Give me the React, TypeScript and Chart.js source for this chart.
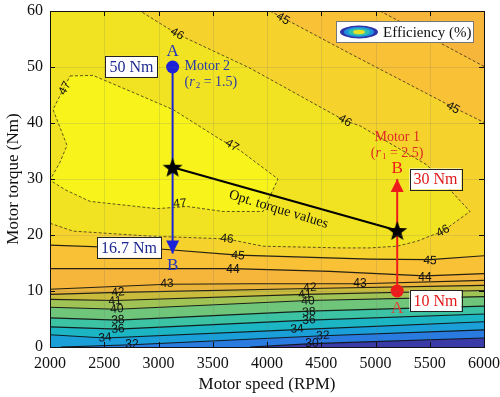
import React, { useEffect, useRef } from 'react';
import { Chart, registerables } from 'chart.js';

Chart.register(...registerables);

// ---------- axes ----------
const SPEED_MIN = 2000;
const SPEED_MAX = 6000;
const TORQUE_MIN = 0;
const TORQUE_MAX = 60;
const SPEED_TICKS = [2000, 2500, 3000, 3500, 4000, 4500, 5000, 5500, 6000];
const TORQUE_TICKS = [0, 10, 20, 30, 40, 50, 60];

// ---------- efficiency contour lines (speed RPM, torque Nm) ----------
const C44_TOP_X = [5042, 5576, 6000];
const C44_TOP_Y = [60, 54.5, 50.1];
const C45_TOP_X = [4028, 4765, 5687, 6000];
const C45_TOP_Y = [60, 52.4, 43.1, 40.1];
const C46_X = [2000, 2212, 2922, 3631, 3963, 4673, 4949, 5198, 5383, 5622, 5871, 5475, 4857, 4719, 3843, 3171, 2830];
const C46_Y = [22.1, 20.7, 19.8, 19.3, 18.0, 17.7, 17.7, 18.0, 18.9, 20.7, 24.2, 32.5, 39.5, 40.4, 49.8, 55.9, 60];
const C46_CORNER_X = [2000];
const C46_CORNER_Y = [60];
const C47_X = [2184, 2396, 2737, 3134, 3567, 3751, 4101, 3963, 3595, 3263, 2986, 2369, 2138, 2000, 2092, 2157, 2028, 2184];
const C47_Y = [48.4, 48.5, 45.7, 42.4, 37.1, 35.1, 30.0, 24.2, 24.2, 25.1, 24.7, 26.0, 28.1, 29.8, 33.0, 36.0, 42.4, 48.4];
const C45_X = [2000, 3014, 3733, 4949, 5502, 6000];
const C45_Y = [18.2, 17.5, 16.4, 15.7, 15.6, 16.3];
const C44_X = [2000, 2922, 3687, 4581, 5456, 6000];
const C44_Y = [14.0, 14.0, 14.0, 13.5, 12.7, 13.1];
const C43_X = [2000, 3078, 3843, 4857, 6000];
const C43_Y = [10.3, 11.2, 11.3, 11.3, 11.9];
const C42_X = [2000, 2627, 4396, 6000];
const C42_Y = [9.4, 9.75, 10.45, 11.0];
const C41_X = [2000, 2599, 4350, 6000];
const C41_Y = [8.5, 8.3, 9.4, 10.1];
const C40_X = [2000, 2617, 4378, 6000];
const C40_Y = [7.1, 6.75, 8.3, 9.0];
const C38_X = [2000, 2627, 4387, 6000];
const C38_Y = [5.2, 4.8, 6.4, 7.3];
const C36_X = [2000, 2627, 4387, 6000];
const C36_Y = [3.6, 3.2, 4.8, 5.9];
const C34_X = [2000, 2507, 4277, 6000];
const C34_Y = [2.2, 1.6, 3.1, 4.5];
const C32_X = [2100, 2756, 4516, 6000];
const C32_Y = [0, 0.4, 2.0, 3.05];
const C30_X = [3843, 4415, 6000];
const C30_Y = [0, 0.6, 1.6];

// contour labels
const LABEL_TEXT = ['46', '47', '47', '47', '46', '45', '45', '46', '46', '45', '44', '45', '44', '43', '43', '42', '41', '40', '38', '36', '34', '32', '42', '41', '40', '38', '36', '34', '32', '30'];
const LABEL_SPEED = [3171, 2138, 3677, 3198, 4719, 4147, 5714, 5622, 3631, 3733, 3687, 5502, 5456, 3078, 4857, 2627, 2599, 2617, 2627, 2627, 2507, 2756, 4396, 4350, 4378, 4387, 4387, 4277, 4516, 4415];
const LABEL_TORQUE = [55.9, 46.2, 36.0, 25.6, 40.4, 58.6, 42.7, 20.7, 19.3, 16.3, 13.8, 15.4, 12.4, 11.3, 11.3, 9.75, 8.2, 6.75, 4.8, 3.2, 1.64, 0.4, 10.6, 9.4, 8.2, 6.2, 4.8, 3.2, 2.0, 0.6];
const LABEL_ANGLE = [30, -62, 32, -5, 30, 30, 30, -28, 6, 5, 0, 3, 0, -2, 0, -5, -5, -5, -5, -5, -5, 0, -4, -4, -4, -4, -4, -4, -4, 0];

// operating points
const MOTOR2_SPEED = 3130;
const MOTOR2_TORQUE = [50, 16.7];
const MOTOR1_SPEED = 5200;
const MOTOR1_TORQUE = [10, 30];
const OPT_SPEED = [3130, 5200];
const OPT_TORQUE = [32.1, 20.8];

// value boxes
const BOX_TEXT = ['50 Nm', '16.7 Nm', '30 Nm', '10 Nm'];
const BOX_SPEED = [2751, 2728, 5553, 5553];
const BOX_TORQUE = [50.1, 17.8, 30.0, 8.3];

// ---------- colours ----------
const COL_LT30 = '#3b3ba8';
const COL_30_32 = '#2a7be0';
const COL_32_34 = '#1a9fd8';
const COL_34_36 = '#1cb5c3';
const COL_36_38 = '#3bc3a4';
const COL_38_40 = '#6fc67a';
const COL_40_41 = '#a0c356';
const COL_41_42 = '#c9bc3d';
const COL_42_43 = '#eab43a';
const COL_43_44 = '#f6b53b';
const COL_44_45 = '#f8c136';
const COL_45_46 = '#f5d22c';
const COL_46_47 = '#f2e322';
const COL_GT47 = '#f7f31b';
const BLUE = '#1b22d8';
const BLUE_TEXT = '#1e2a90';
const RED = '#ee1b1b';
const RED_TEXT = '#de2a24';
const SERIF = '"Liberation Serif", "Times New Roman", serif';
const SANS = '"Liberation Sans", Arial, sans-serif';

const pts = (xs: number[], ys: number[]) => xs.map((x, i) => ({ x, y: ys[i] }));

function makeStar(r: number) {
  const c = document.createElement('canvas');
  const s = Math.ceil(r * 2 + 2);
  c.width = s;
  c.height = s;
  const g = c.getContext('2d')!;
  g.translate(s / 2, s / 2 + 1);
  g.beginPath();
  for (let i = 0; i < 10; i++) {
    const rad = i % 2 === 0 ? r : r * 0.42;
    const a = -Math.PI / 2 + (i * Math.PI) / 5;
    g.lineTo(Math.cos(a) * rad, Math.sin(a) * rad);
  }
  g.closePath();
  g.fillStyle = '#000';
  g.fill();
  return c;
}

export default function App() {
  const ref = useRef<HTMLCanvasElement>(null);

  useEffect(() => {
    const canvas = ref.current!;
    const layers: any[] = [];
    const base = { pointRadius: 0, pointHoverRadius: 0, tension: 0 };
    const fillLayer = (xs: number[], ys: number[], fill: any, color: string) =>
      layers.push({ ...base, data: pts(xs, ys), fill, backgroundColor: color, borderWidth: 0, borderColor: 'rgba(0,0,0,0)' });
    const strokeLayer = (xs: number[], ys: number[], dashed: boolean) =>
      layers.push({
        ...base,
        data: pts(xs, ys),
        fill: false,
        borderColor: dashed ? 'rgba(20,20,20,0.85)' : 'rgba(15,15,15,0.9)',
        borderWidth: dashed ? 0.8 : 1.1,
        borderDash: dashed ? [3, 2] : [],
      });

    // fills, painted bottom to top
    fillLayer(C45_TOP_X, C45_TOP_Y, 'end', COL_44_45);
    fillLayer(C44_TOP_X, C44_TOP_Y, 'end', COL_43_44);
    fillLayer(C46_X.concat(C46_CORNER_X), C46_Y.concat(C46_CORNER_Y), 'shape', COL_46_47);
    fillLayer(C47_X, C47_Y, 'shape', COL_GT47);
    fillLayer(C45_X, C45_Y, 'start', COL_44_45);
    fillLayer(C44_X, C44_Y, 'start', COL_43_44);
    fillLayer(C43_X, C43_Y, 'start', COL_42_43);
    fillLayer(C42_X, C42_Y, 'start', COL_41_42);
    fillLayer(C41_X, C41_Y, 'start', COL_40_41);
    fillLayer(C40_X, C40_Y, 'start', COL_38_40);
    fillLayer(C38_X, C38_Y, 'start', COL_36_38);
    fillLayer(C36_X, C36_Y, 'start', COL_34_36);
    fillLayer(C34_X, C34_Y, 'start', COL_32_34);
    fillLayer(C32_X, C32_Y, 'start', COL_30_32);
    fillLayer(C30_X, C30_Y, 'start', COL_LT30);

    // contour strokes
    strokeLayer(C45_TOP_X, C45_TOP_Y, true);
    strokeLayer(C44_TOP_X, C44_TOP_Y, true);
    strokeLayer(C46_X, C46_Y, true);
    strokeLayer(C47_X, C47_Y, true);
    strokeLayer(C45_X, C45_Y, false);
    strokeLayer(C44_X, C44_Y, false);
    strokeLayer(C43_X, C43_Y, false);
    strokeLayer(C42_X, C42_Y, false);
    strokeLayer(C41_X, C41_Y, false);
    strokeLayer(C40_X, C40_Y, false);
    strokeLayer(C38_X, C38_Y, false);
    strokeLayer(C36_X, C36_Y, false);
    strokeLayer(C34_X, C34_Y, false);
    strokeLayer(C32_X, C32_Y, false);
    strokeLayer(C30_X, C30_Y, false);

    // motor lines
    layers.push({ ...base, data: pts([MOTOR2_SPEED, MOTOR2_SPEED], MOTOR2_TORQUE), borderColor: BLUE, borderWidth: 2, fill: false });
    layers.push({ ...base, data: pts([MOTOR1_SPEED, MOTOR1_SPEED], MOTOR1_TORQUE), borderColor: RED, borderWidth: 2, fill: false });
    layers.push({ ...base, data: pts(OPT_SPEED, OPT_TORQUE), borderColor: '#000', borderWidth: 2.2, fill: false });
    // start points
    layers.push({ ...base, showLine: false, data: [{ x: MOTOR2_SPEED, y: MOTOR2_TORQUE[0] }], pointRadius: 6.5, pointBackgroundColor: BLUE, pointBorderWidth: 0 });
    layers.push({ ...base, showLine: false, data: [{ x: MOTOR1_SPEED, y: MOTOR1_TORQUE[0] }], pointRadius: 6.5, pointBackgroundColor: RED, pointBorderWidth: 0 });
    // optimum stars
    layers.push({ ...base, showLine: false, data: pts(OPT_SPEED, OPT_TORQUE), pointRadius: 10, pointStyle: makeStar(10.5) });

    const datasets = layers.map((d, i) => ({ ...d, order: layers.length - i }));

    const overlay = {
      id: 'overlay',
      beforeDatasetsDraw(chart: any) {
        const { ctx, chartArea: a } = chart;
        ctx.save();
        ctx.fillStyle = COL_45_46;
        ctx.fillRect(a.left, a.top, a.right - a.left, a.bottom - a.top);
        ctx.restore();
      },
      afterDatasetsDraw(chart: any) {
        const { ctx, chartArea: a } = chart;
        const xs = chart.scales.x;
        const ys = chart.scales.y;
        const X = (v: number) => xs.getPixelForValue(v);
        const Y = (v: number) => ys.getPixelForValue(v);
        ctx.save();
        ctx.beginPath();
        ctx.rect(a.left, a.top, a.right - a.left, a.bottom - a.top);
        ctx.clip();

        // faint grid
        ctx.strokeStyle = 'rgba(110,110,110,0.18)';
        ctx.lineWidth = 1;
        SPEED_TICKS.forEach((v) => {
          const px = Math.round(X(v)) + 0.5;
          ctx.beginPath();
          ctx.moveTo(px, a.top);
          ctx.lineTo(px, a.bottom);
          ctx.stroke();
        });
        TORQUE_TICKS.forEach((v) => {
          const py = Math.round(Y(v)) + 0.5;
          ctx.beginPath();
          ctx.moveTo(a.left, py);
          ctx.lineTo(a.right, py);
          ctx.stroke();
        });

        // contour labels
        ctx.fillStyle = '#111';
        ctx.font = `12px ${SANS}`;
        ctx.textAlign = 'center';
        ctx.textBaseline = 'middle';
        LABEL_TEXT.forEach((t, i) => {
          ctx.save();
          ctx.translate(X(LABEL_SPEED[i]), Y(LABEL_TORQUE[i]));
          ctx.rotate((LABEL_ANGLE[i] * Math.PI) / 180);
          ctx.fillText(t, 0, 0);
          ctx.restore();
        });

        // arrowheads
        const arrow = (sx: number, tip: number, dir: number, color: string) => {
          const px = X(sx);
          const py = Y(tip);
          ctx.fillStyle = color;
          ctx.beginPath();
          ctx.moveTo(px, py);
          ctx.lineTo(px - 6.5, py - dir * 13);
          ctx.lineTo(px + 6.5, py - dir * 13);
          ctx.closePath();
          ctx.fill();
        };
        arrow(MOTOR2_SPEED, MOTOR2_TORQUE[1], 1, BLUE);
        arrow(MOTOR1_SPEED, MOTOR1_TORQUE[1], -1, RED);

        // A / B letters
        ctx.font = `17px ${SERIF}`;
        ctx.textAlign = 'center';
        ctx.textBaseline = 'middle';
        ctx.fillStyle = '#2233c0';
        ctx.fillText('A', X(MOTOR2_SPEED), Y(MOTOR2_TORQUE[0]) - 15);
        ctx.fillText('B', X(MOTOR2_SPEED), Y(MOTOR2_TORQUE[1]) + 12);
        ctx.fillStyle = RED;
        ctx.fillText('B', X(MOTOR1_SPEED), Y(MOTOR1_TORQUE[1]) - 10);
        ctx.fillStyle = '#e0443c';
        ctx.fillText('A', X(MOTOR1_SPEED), Y(MOTOR1_TORQUE[0]) + 18);

        // motor captions
        const caption = (x: number, y: number, name: string, sub: string, val: string, color: string, align: string) => {
          ctx.fillStyle = color;
          ctx.textBaseline = 'middle';
          ctx.font = `14px ${SERIF}`;
          const w1 = ctx.measureText(name).width;
          const parts: [string, string, number][] = [
            ['(', `14px ${SERIF}`, 0],
            ['r', `italic 14px ${SERIF}`, 0],
            [sub, `9px ${SERIF}`, 4],
            [' = ' + val + ')', `14px ${SERIF}`, 0],
          ];
          let w2 = 0;
          parts.forEach(([s, f]) => {
            ctx.font = f;
            w2 += ctx.measureText(s).width + (s === 'r' ? 1 : 0);
          });
          const x1 = align === 'center' ? x - w1 / 2 : x;
          const x2 = align === 'center' ? x - w2 / 2 : x;
          ctx.textAlign = 'left';
          ctx.font = `14px ${SERIF}`;
          ctx.fillText(name, x1, y);
          let cx = x2;
          parts.forEach(([s, f, dy]) => {
            ctx.font = f;
            ctx.fillText(s, cx, y + 16 + dy);
            cx += ctx.measureText(s).width + (s === 'r' ? 1 : 0);
          });
        };
        caption(X(MOTOR2_SPEED) + 12, Y(MOTOR2_TORQUE[0]) - 1, 'Motor 2', '2', '1.5', '#2a3aa8', 'left');
        caption(X(MOTOR1_SPEED), Y(MOTOR1_TORQUE[1]) - 42, 'Motor 1', '1', '2.5', RED_TEXT, 'center');

        // optimum label
        ctx.save();
        const ox = (X(OPT_SPEED[0]) + X(OPT_SPEED[1])) / 2;
        const oy = (Y(OPT_TORQUE[0]) + Y(OPT_TORQUE[1])) / 2;
        const ang = Math.atan2(Y(OPT_TORQUE[1]) - Y(OPT_TORQUE[0]), X(OPT_SPEED[1]) - X(OPT_SPEED[0]));
        ctx.translate(ox, oy);
        ctx.rotate(ang + 0.02);
        ctx.fillStyle = '#111';
        ctx.font = `14px ${SERIF}`;
        ctx.textAlign = 'center';
        ctx.fillText('Opt. torque values', -3, 12);
        ctx.restore();

        // value boxes
        ctx.font = `16px ${SERIF}`;
        BOX_TEXT.forEach((t, i) => {
          const cx = X(BOX_SPEED[i]);
          const cy = Y(BOX_TORQUE[i]);
          const w = ctx.measureText(t).width + 8;
          const h = 21;
          ctx.fillStyle = '#fff';
          ctx.fillRect(cx - w / 2, cy - h / 2, w, h);
          ctx.strokeStyle = '#222';
          ctx.lineWidth = 1;
          ctx.strokeRect(Math.round(cx - w / 2) + 0.5, Math.round(cy - h / 2) + 0.5, Math.round(w), h);
          ctx.fillStyle = i < 2 ? BLUE_TEXT : '#e01818';
          ctx.textAlign = 'center';
          ctx.textBaseline = 'middle';
          ctx.fillText(t, cx, cy + 1);
        });

        // legend
        const lx = a.right - 148;
        const ly = a.top + 10;
        ctx.fillStyle = '#fff';
        ctx.fillRect(lx, ly, 137, 21);
        ctx.strokeStyle = '#777';
        ctx.strokeRect(lx + 0.5, ly + 0.5, 137, 21);
        const ex = lx + 23;
        const ey = ly + 11;
        const ell = (rx: number, ry: number, c: string) => {
          ctx.fillStyle = c;
          ctx.beginPath();
          ctx.ellipse(ex, ey, rx, ry, 0, 0, Math.PI * 2);
          ctx.fill();
        };
        ell(19, 6.5, '#2e35a8');
        ell(15, 5, '#1f8fe0');
        ell(11, 3.8, '#2cc0b0');
        ell(6, 2.3, '#e6e02a');
        ctx.fillStyle = '#111';
        ctx.font = `15px ${SERIF}`;
        ctx.textAlign = 'left';
        ctx.textBaseline = 'middle';
        ctx.fillText('Efficiency (%)', lx + 47, ey + 1);

        ctx.restore();
      },
      afterDraw(chart: any) {
        const { ctx, chartArea: a } = chart;
        const xs = chart.scales.x;
        const ys = chart.scales.y;
        ctx.save();
        // frame
        ctx.strokeStyle = '#111';
        ctx.lineWidth = 1;
        ctx.strokeRect(Math.round(a.left) + 0.5, Math.round(a.top) + 0.5, Math.round(a.right - a.left), Math.round(a.bottom - a.top));
        // inward ticks on all four sides
        ctx.beginPath();
        SPEED_TICKS.forEach((v) => {
          const px = Math.round(xs.getPixelForValue(v)) + 0.5;
          ctx.moveTo(px, a.bottom);
          ctx.lineTo(px, a.bottom - 5);
          ctx.moveTo(px, a.top);
          ctx.lineTo(px, a.top + 5);
        });
        TORQUE_TICKS.forEach((v) => {
          const py = Math.round(ys.getPixelForValue(v)) + 0.5;
          ctx.moveTo(a.left, py);
          ctx.lineTo(a.left + 5, py);
          ctx.moveTo(a.right, py);
          ctx.lineTo(a.right - 5, py);
        });
        ctx.stroke();
        // axis titles
        ctx.fillStyle = '#111';
        ctx.font = `17px ${SERIF}`;
        ctx.textAlign = 'center';
        ctx.textBaseline = 'middle';
        ctx.fillText('Motor speed (RPM)', (a.left + a.right) / 2, 385);
        ctx.save();
        ctx.translate(14, (a.top + a.bottom) / 2);
        ctx.rotate(-Math.PI / 2);
        ctx.fillText('Motor torque (Nm)', 0, 0);
        ctx.restore();
        ctx.restore();
      },
    };

    const chart = new Chart(canvas, {
      type: 'line',
      data: { datasets },
      options: {
        animation: false,
        responsive: true,
        maintainAspectRatio: false,
        events: [],
        layout: { padding: { left: 0, right: 16, top: 7, bottom: 0 } },
        plugins: { legend: { display: false }, tooltip: { enabled: false } },
        scales: {
          x: {
            type: 'linear',
            min: SPEED_MIN,
            max: SPEED_MAX,
            afterBuildTicks: (s: any) => {
              s.ticks = SPEED_TICKS.map((v) => ({ value: v }));
            },
            afterFit: (s: any) => {
              s.height = 50;
              s.paddingLeft = 0;
              s.paddingRight = 0;
            },
            ticks: { color: '#111', font: { family: SERIF, size: 16 }, padding: 7, maxRotation: 0, autoSkip: false, callback: (v: any) => String(v) },
            grid: { display: false, drawTicks: false },
            border: { display: false },
          },
          y: {
            type: 'linear',
            min: TORQUE_MIN,
            max: TORQUE_MAX,
            afterBuildTicks: (s: any) => {
              s.ticks = TORQUE_TICKS.map((v) => ({ value: v }));
            },
            afterFit: (s: any) => {
              s.width = 50;
              s.paddingTop = 0;
              s.paddingBottom = 0;
            },
            ticks: { color: '#111', font: { family: SERIF, size: 16 }, padding: 7, autoSkip: false, callback: (v: any) => String(v) },
            grid: { display: false, drawTicks: false },
            border: { display: false },
          },
        },
      } as any,
      plugins: [overlay],
    });
    return () => chart.destroy();
  }, []);

  return (
    <div style={{ position: 'fixed', left: 0, top: 0, width: 500, height: 397, background: '#fff' }}>
      <canvas ref={ref} />
    </div>
  );
}
